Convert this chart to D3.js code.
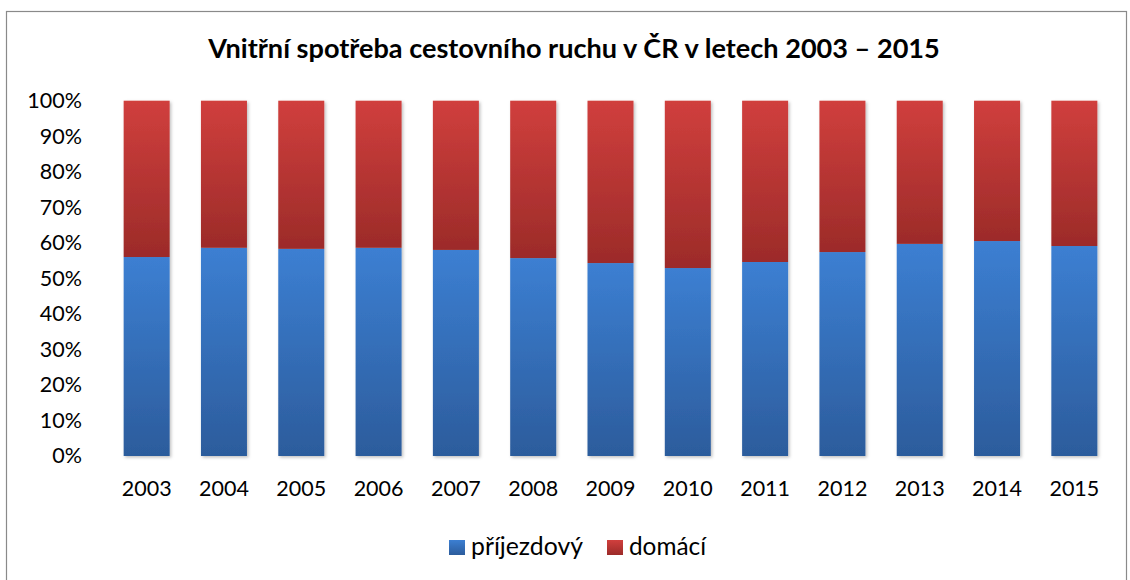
<!DOCTYPE html>
<html>
<head>
<meta charset="utf-8">
<script src="https://cdn.jsdelivr.net/npm/d3@7"></script>
<style>
  html, body { margin: 0; padding: 0; background: #fff; }
  text { font-family: Lato, "Open Sans", sans-serif; fill: #000; }
</style>
</head>
<body>
<svg id="chart"></svg>
<script>
// Données
const years = ["2003", "2004", "2005", "2006", "2007", "2008", "2009", "2010", "2011", "2012", "2013", "2014", "2015"];
const prijezdovy = [56.0, 58.6, 58.3, 58.6, 58.0, 55.7, 54.3, 52.9, 54.6, 57.4, 59.7, 60.5, 59.1];
const domaci = prijezdovy.map(v => 100 - v);
const yTicks = [0, 10, 20, 30, 40, 50, 60, 70, 80, 90, 100];
const seriesNames = ["příjezdový", "domácí"];
const title = "Vnitřní spotřeba cestovního ruchu v ČR v letech 2003 – 2015";

const width = 1130, height = 580;
const plot = { left: 108, right: 1113, top: 100.7, bottom: 456 };

const svg = d3.select("#chart").attr("width", width).attr("height", height);

// dégradés des barres
const defs = svg.append("defs");
function grad(id, top, bottom) {
  const g = defs.append("linearGradient").attr("id", id)
    .attr("x1", 0).attr("y1", 0).attr("x2", 0).attr("y2", 1);
  g.append("stop").attr("offset", "0%").attr("stop-color", top);
  g.append("stop").attr("offset", "100%").attr("stop-color", bottom);
}
grad("gBlue", "#3c7fd2", "#2c5c9c");
grad("gRed", "#d03f3d", "#9c2b29");
const shadow = defs.append("filter").attr("id", "sh")
  .attr("x", "-20%").attr("y", "-20%").attr("width", "140%").attr("height", "140%");
shadow.append("feDropShadow").attr("dx", 1.5).attr("dy", 1.5).attr("stdDeviation", 1.5)
  .attr("flood-color", "#000").attr("flood-opacity", 0.25);

// cadre
svg.append("rect").attr("x", 6.5).attr("y", 11.5).attr("width", 1120).attr("height", 600)
  .attr("fill", "#fff").attr("stroke", "#8a8a8a").attr("stroke-width", 1.2);

// ajuste la taille de police à une largeur cible
function fitWidth(sel, size, target) {
  sel.attr("font-size", size);
  const w = sel.node().getComputedTextLength();
  sel.attr("font-size", size * target / w);
}

// titre
const t = svg.append("text").attr("x", 574).attr("y", 58).attr("text-anchor", "middle")
  .attr("font-weight", "bold").text(title);
fitWidth(t, 20, 732);

// échelles
const x = d3.scaleBand().domain(years).range([plot.left, plot.right])
  .paddingInner(0.405).paddingOuter(0.2025);
const y = d3.scaleLinear().domain([0, 100]).range([plot.bottom, plot.top]);

// grille
svg.append("g").selectAll("line").data(yTicks).join("line")
  .attr("x1", plot.left).attr("x2", plot.right)
  .attr("y1", d => y(d)).attr("y2", d => y(d))
  .attr("stroke", "#8c8c8c").attr("stroke-width", 1.2).attr("filter", "url(#sh)");

// axe Y
const yAxis = svg.append("g").attr("transform", `translate(${plot.left},0)`)
  .call(d3.axisLeft(y).tickValues(yTicks).tickFormat(d => d + "%").tickSize(0).tickPadding(26));
yAxis.select(".domain").remove();
yAxis.selectAll("text").attr("font-size", 21.5).style("font-family", "Lato, sans-serif");

// axe X
const xAxis = svg.append("g").attr("transform", `translate(0,${plot.bottom})`)
  .call(d3.axisBottom(x).tickSize(0).tickPadding(25));
xAxis.select(".domain").remove();
xAxis.selectAll("text").attr("font-size", 21.5).style("font-family", "Lato, sans-serif");

// barres empilées
const bars = svg.append("g").attr("filter", "url(#sh)");
years.forEach((yr, i) => {
  bars.append("rect").attr("x", x(yr)).attr("width", x.bandwidth())
    .attr("y", y(prijezdovy[i])).attr("height", y(0) - y(prijezdovy[i]))
    .attr("fill", "url(#gBlue)");
  bars.append("rect").attr("x", x(yr)).attr("width", x.bandwidth())
    .attr("y", y(prijezdovy[i]) - y(100) >= 0 ? y(100) : y(prijezdovy[i]))
    .attr("height", y(prijezdovy[i]) - y(100))
    .attr("fill", "url(#gRed)");
});

// légende
const legend = svg.append("g");
const legX = [449, 607];
const legW = [112, 77];
seriesNames.forEach((name, i) => {
  legend.append("rect").attr("x", legX[i]).attr("y", 540).attr("width", 16).attr("height", 15)
    .attr("fill", i === 0 ? "url(#gBlue)" : "url(#gRed)");
  const lt = legend.append("text").attr("x", legX[i] + 22).attr("y", 555).text(name);
  fitWidth(lt, 19, legW[i]);
});
</script>
</body>
</html>
